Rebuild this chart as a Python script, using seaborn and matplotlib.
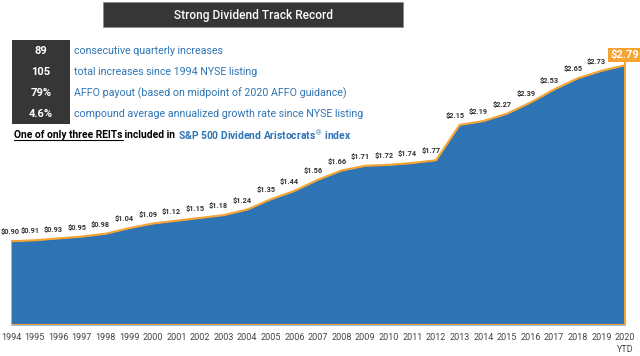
import seaborn as sns
import matplotlib.pyplot as plt
import pandas as pd
from matplotlib.patches import Rectangle

years = list(range(1994, 2021))
dividends = [0.90, 0.91, 0.93, 0.95, 0.98, 1.04, 1.09, 1.12, 1.15, 1.18, 1.24, 1.35, 1.44,
             1.56, 1.66, 1.71, 1.72, 1.74, 1.77, 2.15, 2.19, 2.27, 2.39, 2.53, 2.65, 2.73, 2.79]
year_labels = [str(y) for y in years[:-1]] + ["2020\nYTD"]
stat_values = ["89", "105", "79%", "4.6%"]
stat_texts = ["consecutive quarterly increases",
              "total increases since 1994 NYSE listing",
              "AFFO payout (based on midpoint of 2020 AFFO guidance)",
              "compound average annualized growth rate since NYSE listing"]

BLUE = "#2e74b5"
ORANGE = "#f5a331"
DARK = "#363636"

sns.set_theme(style="white")
plt.rcParams["font.family"] = ["Roboto", "DejaVu Sans"]
df = pd.DataFrame({"year": years, "dividend": dividends})

W, H = 640, 356
fig = plt.figure(figsize=(6.4, 3.56), dpi=100)
renderer = fig.canvas.get_renderer()


def fit_size(t, width):
    # font size that makes text t span the given pixel width
    w = t.get_window_extent(renderer).width
    return t.get_fontsize() * width / w


ax = fig.add_axes([11 / W, 31 / H, 614 / W, 325 / H])
ax.fill_between(df["year"], 0, df["dividend"], color=BLUE, lw=0)
sns.lineplot(data=df, x="year", y="dividend", ax=ax, color=ORANGE, lw=1.5)
ax.plot([years[0], years[0], years[-1], years[-1]],
        [dividends[0], 0, 0, dividends[-1]], color=ORANGE, lw=1.5)
ax.set_xlim(years[0], years[-1])
ax.set_ylim(0, 325 / 93.1)
ax.axis("off")

for i, (x, v) in enumerate(zip(years[:-1], dividends[:-1])):
    dx = -0.5 if i == 0 else -3.5
    ax.annotate(f"${v:.2f}", (x, v), xytext=(dx, 3.5), textcoords="offset points",
                ha="center", va="bottom", fontsize=5.3, fontweight="bold", color="#333333")
ax.text(639 / W, 1 - 55 / H, f"${dividends[-1]:.2f}", transform=fig.transFigure,
        ha="right", va="center", fontsize=8, fontweight="bold", color="white",
        bbox=dict(boxstyle="square,pad=0.2", fc=ORANGE, ec="none"))
ax.plot([years[-1], years[-1]], [dividends[-1], dividends[-1] + 0.05], color=ORANGE, lw=1.5,
        clip_on=False)

for x, lab in zip(years, year_labels):
    ax.text(x, -0.09, lab, ha="center", va="top", fontsize=6.5, color="#444444",
            linespacing=1.4, clip_on=False)

# title bar
fig.patches.append(Rectangle((103 / W, 1 - 27 / H), 300 / W, 25 / H,
                             transform=fig.transFigure, fc=DARK, ec="#888888", lw=0.5))
title = fig.text(253 / W, 1 - 15 / H, "Strong Dividend Track Record", ha="center",
                 va="center", color="white", fontsize=10, fontweight="medium")
title.set_fontsize(fit_size(title, 158))

# stats block
fig.patches.append(Rectangle((12 / W, 1 - 124 / H), 58 / W, 84 / H,
                             transform=fig.transFigure, fc=DARK, ec="none"))
stat_artists = []
for i, (v, t) in enumerate(zip(stat_values, stat_texts)):
    y = 1 - (51 + i * 21) / H
    fig.text(41 / W, y, v, ha="center", va="center", color="white", fontsize=8,
             fontweight="bold")
    stat_artists.append(fig.text(74 / W, y, t, ha="left", va="center", color=BLUE,
                                 fontsize=8))
fs_stats = fit_size(stat_artists[-1], 290)
for a in stat_artists:
    a.set_fontsize(fs_stats)

y5 = 1 - 135 / H
t1 = fig.text(14 / W, y5, "One of only three REITs", ha="left", va="center",
              color="black", fontsize=7, fontweight="bold")
t2 = fig.text(0, y5, " included in", ha="left", va="center", color="black",
              fontsize=7, fontweight="bold")
t3 = fig.text(0, y5, "S&P 500 Dividend Aristocrats$^{®}$ index", ha="left",
              va="center", color=BLUE, fontsize=7, fontweight="bold")
total = sum(a.get_window_extent(renderer).width for a in (t1, t2, t3)) + 3
fs5 = 7 * 341 / total
for a in (t1, t2, t3):
    a.set_fontsize(fs5)
bb = t1.get_window_extent(renderer)
t2.set_x(bb.x1 / W)
bb2 = t2.get_window_extent(renderer)
t3.set_x((bb2.x1 + 3) / W)
fig.add_artist(plt.Line2D([bb.x0 / W, bb.x1 / W], [(bb.y0 - 0.3) / H] * 2, color="black",
                          lw=0.8))

fig.savefig("out.png", dpi=100)
